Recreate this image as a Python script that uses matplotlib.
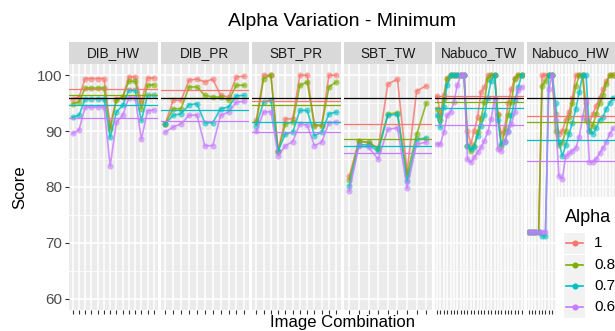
import matplotlib.pyplot as plt
import numpy as np
from matplotlib.lines import Line2D
from matplotlib.patches import Rectangle

plt.rcParams['font.family'] = ['Liberation Sans', 'DejaVu Sans']

panels = ["DIB_HW", "DIB_PR", "SBT_PR", "SBT_TW", "Nabuco_TW", "Nabuco_HW"]
alphas = ["1", "0.8", "0.7", "0.6"]
colors = ["#F8766D", "#7CAE00", "#00BFC4", "#C77CFF"]
baseline = 96.0

# scores per panel, one list per alpha (1, 0.8, 0.7, 0.6)
dib_hw = [
    [95.8, 96.1, 99.4, 99.4, 99.4, 99.4, 91.0, 95.8, 96.1, 99.7, 99.7, 95.2, 99.5, 99.5],
    [94.9, 95.2, 97.7, 97.7, 97.7, 97.7, 90.4, 95.5, 96.1, 98.9, 98.9, 94.0, 98.2, 98.3],
    [92.5, 92.8, 95.8, 95.8, 95.8, 95.8, 88.9, 93.4, 94.6, 97.3, 97.3, 91.9, 96.4, 96.4],
    [89.6, 90.2, 94.3, 94.3, 94.3, 94.3, 83.8, 91.6, 92.8, 96.0, 96.0, 88.6, 93.6, 93.8],
]
dib_pr = [
    [91.3, 95.5, 95.5, 99.1, 99.3, 98.8, 99.3, 96.4, 96.1, 99.7, 99.8],
    [91.3, 94.0, 94.0, 97.9, 97.9, 96.4, 96.1, 96.1, 95.5, 98.2, 98.2],
    [91.3, 92.8, 93.1, 94.7, 94.9, 91.5, 91.5, 94.0, 94.3, 96.3, 96.4],
    [89.8, 90.7, 91.3, 92.8, 92.9, 87.4, 87.4, 92.8, 93.4, 95.2, 95.3],
]
sbt_pr = [
    [91.9, 100.0, 100.0, 86.5, 92.2, 92.2, 100.0, 100.0, 91.1, 91.1, 100.0, 100.0],
    [91.6, 99.4, 100.0, 86.3, 91.3, 91.6, 98.2, 98.8, 91.0, 91.0, 97.9, 98.8],
    [91.0, 95.2, 95.5, 86.5, 89.5, 89.8, 93.7, 93.7, 89.2, 89.8, 93.1, 93.4],
    [90.0, 93.4, 93.5, 85.6, 87.4, 88.1, 91.3, 91.1, 87.4, 88.0, 91.5, 91.6],
]
sbt_tw = [
    [81.9, 88.2, 87.9, 87.0, 98.4, 99.3, 82.8, 97.2, 98.1],
    [81.3, 88.2, 88.0, 86.8, 93.0, 93.3, 82.2, 89.4, 95.0],
    [80.2, 87.6, 87.5, 86.4, 92.8, 93.0, 81.0, 88.5, 88.8],
    [79.3, 87.3, 87.1, 85.0, 90.3, 90.6, 79.8, 87.7, 88.0],
]
nabuco_tw = [
    [96.3, 93.0, 96.5, 99.5, 100, 100, 100, 100, 100, 90.0, 87.7, 90.0, 92.5,
     97.0, 97.8, 100, 100, 100, 93.0, 89.5, 90.5, 95.0, 97.5, 99.5, 100, 100],
    [94.0, 91.9, 95.8, 99.4, 100, 100, 100, 100, 100, 87.4, 86.5, 87.4, 89.8,
     92.2, 95.2, 99.4, 100, 100, 92.8, 87.4, 89.8, 92.8, 95.2, 99.4, 100, 100],
    [92.8, 90.7, 94.3, 98.2, 100, 100, 100, 100, 100, 87.4, 86.8, 87.1, 89.2,
     91.0, 92.8, 96.0, 99.0, 100, 92.0, 87.7, 88.0, 90.0, 92.8, 95.5, 97.8, 100],
    [87.7, 87.7, 89.8, 92.8, 93.4, 95.2, 98.2, 100, 100, 85.0, 84.4, 85.3, 86.2,
     87.1, 88.3, 89.8, 92.2, 95.8, 86.8, 86.5, 88.3, 89.8, 91.3, 93.4, 97.3, 97.9],
]
nabuco_hw = [
    [72.0, 72.0, 72.0, 72.0, 100, 100, 100, 100, 93.0, 89.5, 90.0, 92.0, 93.5,
     96.0, 100, 100, 100, 95.0, 91.5, 93.0, 94.5, 96.0, 97.5, 99.0, 100, 100],
    [72.0, 72.0, 72.0, 72.0, 98.0, 99.0, 100, 100, 90.0, 87.5, 88.0, 90.0, 92.5,
     95.0, 98.0, 100, 100, 92.0, 90.0, 91.0, 93.0, 95.0, 96.5, 98.5, 100, 100],
    [72.0, 72.0, 72.0, 72.0, 71.3, 71.3, 100, 100, 95.0, 88.0, 85.5, 87.5, 89.5,
     91.5, 94.0, 97.0, 100, 100, 90.0, 89.5, 90.5, 92.0, 92.5, 94.0, 95.0, 96.0],
    [72.0, 72.0, 72.0, 72.0, 72.0, 72.0, 97.5, 100, 92.0, 82.0, 81.5, 85.5, 86.0,
     86.5, 87.0, 89.0, 92.5, 95.5, 84.5, 84.5, 85.0, 86.0, 87.0, 88.0, 89.5, 90.5],
]
panel_data = [dib_hw, dib_pr, sbt_pr, sbt_tw, nabuco_tw, nabuco_hw]

W, H = 615, 331
fig = plt.figure(figsize=(W / 100, H / 100), dpi=100)


def fx(px):
    return px / W


def fy(py):
    return 1 - py / H


top, bottom = 64, 310
lefts = [69, 160.5, 252, 343.5, 435, 526.5]
pw = 88.6

for k, (name, series) in enumerate(zip(panels, panel_data)):
    ax = fig.add_axes([fx(lefts[k]), fy(bottom), pw / W, (bottom - top) / H])
    ax.set_facecolor("#EBEBEB")
    n = len(series[0])
    x = np.arange(n)
    for vals, c in zip(series, colors):
        ax.plot(x, vals, color=c, lw=1.2, alpha=0.8, zorder=3)
        ax.plot(x, vals, "o", color=c, ms=4.4, alpha=0.6, mec="none", zorder=3)
    for vals, c in zip(series, colors):
        ax.axhline(np.mean(vals), color=c, lw=0.9, zorder=4)
    ax.axhline(baseline, color="black", lw=0.9, zorder=5)

    ax.set_xlim(-0.6, n - 0.4)
    ax.set_ylim(58, 102)
    ax.set_xticks(x)
    ax.set_xticklabels([])
    ax.set_yticks([60, 70, 80, 90, 100])
    ax.set_yticks([65, 75, 85, 95], minor=True)
    ax.tick_params(axis="both", which="major", length=3, width=0.8,
                   color="#333333", labelsize=11, labelcolor="#4D4D4D", pad=2)
    ax.tick_params(axis="y", which="minor", length=0)
    if k > 0:
        ax.tick_params(axis="y", which="major", length=0, labelleft=False)
    ax.grid(which="major", color="white", lw=1.1)
    ax.grid(which="minor", axis="y", color="white", lw=0.55)
    ax.set_axisbelow(True)
    for s in ax.spines.values():
        s.set_visible(False)

    sh = 22 / (bottom - top)
    ax.add_patch(Rectangle((0, 1), 1, sh, transform=ax.transAxes,
                           color="#D9D9D9", clip_on=False, lw=0))
    ax.text(0.5, 1 + sh / 2, name, transform=ax.transAxes, ha="center",
            va="center", fontsize=9.8, color="#1A1A1A")

fig.text(fx(342), fy(22), "Alpha Variation - Minimum", ha="center",
         va="center", fontsize=14)
fig.text(fx(342), fy(322), "Image Combination", ha="center", va="center",
         fontsize=12)
fig.text(fx(20), fy(187), "Score", ha="center", va="center", rotation=90,
         fontsize=12)

# legend box drawn over the last panel, cut by the figure edge
fig.patches.append(Rectangle((fx(556), 0), 1, fy(197), transform=fig.transFigure,
                             color="white", lw=0, zorder=10))
fig.text(fx(565), fy(217), "Alpha", ha="left", va="center", fontsize=13,
         zorder=11)
key_y = [243, 265, 286, 307]
for lab, c, ky in zip(alphas, colors, key_y):
    fig.patches.append(Rectangle((fx(564), fy(ky + 10.5)), 21 / W, 21 / H,
                                 transform=fig.transFigure, color="#F2F2F2",
                                 lw=0, zorder=11))
    fig.lines.append(Line2D([fx(566), fx(583)], [fy(ky), fy(ky)],
                            transform=fig.transFigure, color=c, lw=1.2,
                            zorder=12))
    fig.lines.append(Line2D([fx(574.5)], [fy(ky)], transform=fig.transFigure,
                            marker="o", color=c, ms=4.4, mec="none",
                            zorder=12))
    fig.text(fx(594), fy(ky), lab, ha="left", va="center", fontsize=11,
             zorder=12)

fig.savefig("out.png", dpi=100)
